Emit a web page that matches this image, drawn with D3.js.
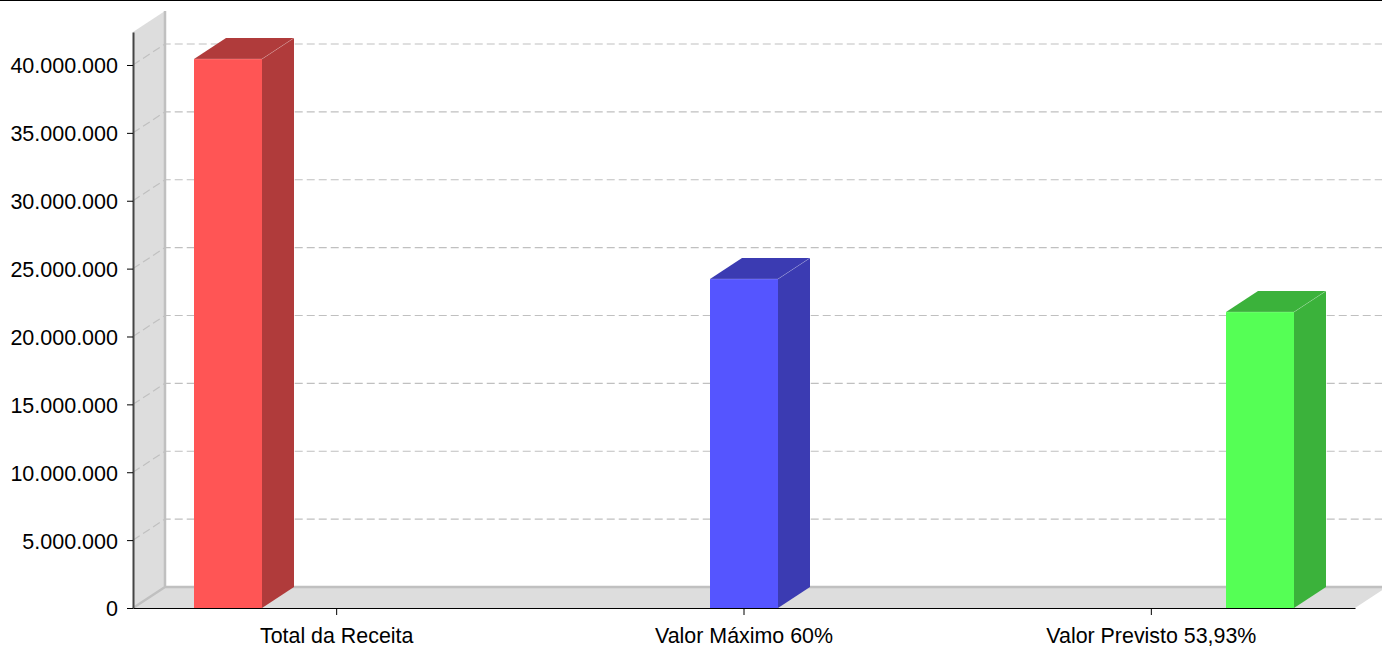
<!DOCTYPE html>
<html>
<head>
<meta charset="utf-8">
<script src="https://cdn.jsdelivr.net/npm/d3@7"></script>
<style>
  html, body { margin: 0; padding: 0; background: #fff; overflow: hidden; }
  svg { display: block; }
  text { font-family: "Liberation Sans", Arial, sans-serif; fill: #000; }
</style>
</head>
<body>
<svg id="chart"></svg>
<script>
// data
const categories = ["Total da Receita", "Valor Máximo 60%", "Valor Previsto 53,93%"];
const values = [40430000, 24230000, 21800000];
const seriesNames = ["receita", "maximo", "previsto"];
const frontColors = ["#ff5555", "#5555ff", "#55ff55"];
const darkColors = ["#b03b3b", "#3b3bb2", "#3bb23b"];
const yTicks = [0, 5000000, 10000000, 15000000, 20000000, 25000000, 30000000, 35000000, 40000000];
const yMax = 42430000;

const width = 1382;
const height = 647;
const left = 133;
const right = 1355;
const bottom = 608;
const top3d = 32;
const dx = 32;   // depth of the 3d effect
const dy = -21;
const barWidth = 68;

const svg = d3.select("#chart").attr("width", width).attr("height", height);

const brFormat = d3.formatLocale({ decimal: ",", thousands: ".", grouping: [3], currency: ["R$", ""] }).format(",d");

const xScale = d3.scaleBand().domain(categories).range([left, right]);
const xSeries = d3.scalePoint().domain(seriesNames).range([-108.67, 108.67]);
const yScale = d3.scaleLinear().domain([0, yMax]).range([bottom, top3d]);

const poly = pts => pts.map(p => p.join(",")).join(" ");

// top border of the image
svg.append("rect").attr("width", width).attr("height", 1).attr("fill", "#000");

// wall and floor
svg.append("polygon")
  .attr("points", poly([[left, bottom], [left, top3d], [left + dx, top3d + dy], [left + dx, bottom + dy]]))
  .attr("fill", "#dddddd");
svg.append("polygon")
  .attr("points", poly([[left, bottom], [right, bottom], [right + dx, bottom + dy], [left + dx, bottom + dy]]))
  .attr("fill", "#dddddd");

// grid lines, wall part then back part
const grid = svg.append("g");
grid.selectAll("path")
  .data(yTicks.filter(d => d > 0))
  .enter()
  .append("path")
  .attr("d", d => `M${left},${yScale(d)}L${left + dx},${yScale(d) + dy}L${width},${yScale(d) + dy}`)
  .attr("fill", "none")
  .attr("stroke", "#c0c0c0")
  .attr("stroke-width", 1.2)
  .attr("stroke-dasharray", "8,4");

// wall and floor edges
svg.append("path")
  .attr("d", `M${left + dx},${top3d + dy}V${bottom + dy}H${width}M${left},${bottom}L${left + dx},${bottom + dy}`)
  .attr("fill", "none")
  .attr("stroke", "#c0c0c0")
  .attr("stroke-width", 2.5);

// bars
const bars = svg.append("g").selectAll("g")
  .data(categories.map((c, i) => ({ cat: c, value: values[i], series: seriesNames[i], front: frontColors[i], dark: darkColors[i] })))
  .enter()
  .append("g");

const barLeft = d => Math.round(xScale(d.cat) + xScale.bandwidth() / 2 + xSeries(d.series) - barWidth / 2);
const barTop = d => Math.round(yScale(d.value));

bars.append("polygon")
  .attr("points", d => {
    const x = barLeft(d), y = barTop(d);
    return poly([[x, y], [x + dx, y + dy], [x + barWidth + dx, y + dy], [x + barWidth, y]]);
  })
  .attr("fill", d => d.dark);

bars.append("polygon")
  .attr("points", d => {
    const x = barLeft(d) + barWidth, y = barTop(d);
    return poly([[x, y], [x + dx, y + dy], [x + dx, bottom + dy], [x, bottom]]);
  })
  .attr("fill", d => d.dark);

bars.append("rect")
  .attr("x", d => barLeft(d))
  .attr("y", d => barTop(d))
  .attr("width", barWidth)
  .attr("height", d => bottom + 1 - barTop(d))
  .attr("fill", d => d.front);

// thin lighter seam on the bar top and the depth edge
bars.append("path")
  .attr("d", d => {
    const x = barLeft(d), y = barTop(d);
    return `M${x},${y}H${x + barWidth}L${x + barWidth + dx},${y + dy}`;
  })
  .attr("fill", "none")
  .attr("stroke", "#ffffff")
  .attr("stroke-opacity", 0.2)
  .attr("stroke-width", 1);

// axes
const yAxis = svg.append("g")
  .attr("transform", `translate(${left},0)`)
  .call(d3.axisLeft(yScale).tickValues(yTicks).tickFormat(brFormat).tickSize(6).tickPadding(9).tickSizeOuter(0));
yAxis.select(".domain").attr("stroke", "#444").attr("stroke-width", 2);
yAxis.selectAll("text").attr("dy", "0.37em").style("font-size", "21.5px");

const xAxis = svg.append("g")
  .attr("transform", `translate(0,${bottom})`)
  .call(d3.axisBottom(xScale).tickSize(7).tickPadding(13).tickSizeOuter(0));
xAxis.selectAll("text").style("font-size", "21.4px");
</script>
</body>
</html>
